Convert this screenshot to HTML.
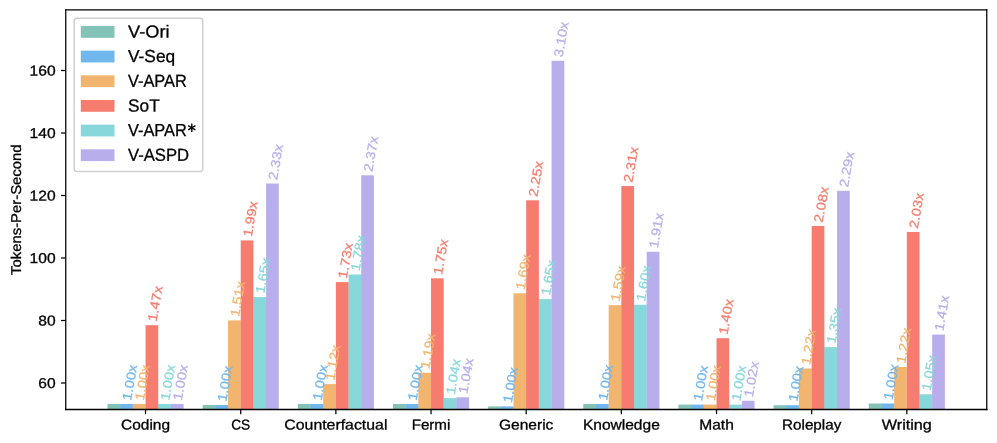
<!DOCTYPE html>
<html><head><meta charset="utf-8"><title>chart</title>
<style>
html,body{margin:0;padding:0;background:#fff;}
body{width:997px;height:443px;overflow:hidden;}
svg{display:block;will-change:transform;}
text{font-family:"Liberation Sans",sans-serif;}
</style></head><body>
<svg width="997" height="443" viewBox="0 0 997 443">
<rect x="0" y="0" width="997" height="443" fill="#ffffff"/>
<g>
<rect x="107.49" y="404.00" width="12.69" height="5.50" fill="#84C3B7"/>
<rect x="120.07" y="404.00" width="0.7" height="5.50" fill="#84C3B7"/>
<rect x="120.17" y="404.00" width="12.69" height="5.50" fill="#71B7ED"/>
<rect x="132.76" y="404.00" width="0.7" height="5.50" fill="#71B7ED"/>
<rect x="132.86" y="404.00" width="12.69" height="5.50" fill="#F2B56F"/>
<rect x="145.45" y="404.00" width="0.7" height="5.50" fill="#F2B56F"/>
<rect x="145.55" y="325.20" width="12.69" height="84.30" fill="#F57C6E"/>
<rect x="158.14" y="404.00" width="0.7" height="5.50" fill="#F57C6E"/>
<rect x="158.24" y="404.00" width="12.69" height="5.50" fill="#88D8DB"/>
<rect x="170.83" y="404.00" width="0.7" height="5.50" fill="#88D8DB"/>
<rect x="170.93" y="404.00" width="12.69" height="5.50" fill="#B8AEEB"/>
<rect x="202.65" y="405.00" width="12.69" height="4.50" fill="#84C3B7"/>
<rect x="215.23" y="405.00" width="0.7" height="4.50" fill="#84C3B7"/>
<rect x="215.33" y="405.00" width="12.69" height="4.50" fill="#71B7ED"/>
<rect x="227.92" y="405.00" width="0.7" height="4.50" fill="#71B7ED"/>
<rect x="228.02" y="320.40" width="12.69" height="89.10" fill="#F2B56F"/>
<rect x="240.61" y="320.40" width="0.7" height="89.10" fill="#F2B56F"/>
<rect x="240.71" y="240.40" width="12.69" height="169.10" fill="#F57C6E"/>
<rect x="253.30" y="297.10" width="0.7" height="112.40" fill="#F57C6E"/>
<rect x="253.40" y="297.10" width="12.69" height="112.40" fill="#88D8DB"/>
<rect x="265.99" y="297.10" width="0.7" height="112.40" fill="#88D8DB"/>
<rect x="266.09" y="183.50" width="12.69" height="226.00" fill="#B8AEEB"/>
<rect x="297.81" y="404.00" width="12.69" height="5.50" fill="#84C3B7"/>
<rect x="310.39" y="404.00" width="0.7" height="5.50" fill="#84C3B7"/>
<rect x="310.49" y="404.00" width="12.69" height="5.50" fill="#71B7ED"/>
<rect x="323.08" y="404.00" width="0.7" height="5.50" fill="#71B7ED"/>
<rect x="323.18" y="384.10" width="12.69" height="25.40" fill="#F2B56F"/>
<rect x="335.77" y="384.10" width="0.7" height="25.40" fill="#F2B56F"/>
<rect x="335.87" y="282.10" width="12.69" height="127.40" fill="#F57C6E"/>
<rect x="348.46" y="282.10" width="0.7" height="127.40" fill="#F57C6E"/>
<rect x="348.56" y="274.50" width="12.69" height="135.00" fill="#88D8DB"/>
<rect x="361.15" y="274.50" width="0.7" height="135.00" fill="#88D8DB"/>
<rect x="361.25" y="175.30" width="12.69" height="234.20" fill="#B8AEEB"/>
<rect x="392.97" y="404.00" width="12.69" height="5.50" fill="#84C3B7"/>
<rect x="405.55" y="404.00" width="0.7" height="5.50" fill="#84C3B7"/>
<rect x="405.65" y="404.00" width="12.69" height="5.50" fill="#71B7ED"/>
<rect x="418.24" y="404.00" width="0.7" height="5.50" fill="#71B7ED"/>
<rect x="418.34" y="372.70" width="12.69" height="36.80" fill="#F2B56F"/>
<rect x="430.93" y="372.70" width="0.7" height="36.80" fill="#F2B56F"/>
<rect x="431.03" y="278.30" width="12.69" height="131.20" fill="#F57C6E"/>
<rect x="443.62" y="398.10" width="0.7" height="11.40" fill="#F57C6E"/>
<rect x="443.72" y="398.10" width="12.69" height="11.40" fill="#88D8DB"/>
<rect x="456.31" y="398.10" width="0.7" height="11.40" fill="#88D8DB"/>
<rect x="456.41" y="397.30" width="12.69" height="12.20" fill="#B8AEEB"/>
<rect x="488.13" y="406.40" width="12.69" height="3.10" fill="#84C3B7"/>
<rect x="500.71" y="406.40" width="0.7" height="3.10" fill="#84C3B7"/>
<rect x="500.81" y="406.40" width="12.69" height="3.10" fill="#71B7ED"/>
<rect x="513.40" y="406.40" width="0.7" height="3.10" fill="#71B7ED"/>
<rect x="513.50" y="293.30" width="12.69" height="116.20" fill="#F2B56F"/>
<rect x="526.09" y="293.30" width="0.7" height="116.20" fill="#F2B56F"/>
<rect x="526.19" y="200.30" width="12.69" height="209.20" fill="#F57C6E"/>
<rect x="538.78" y="299.10" width="0.7" height="110.40" fill="#F57C6E"/>
<rect x="538.88" y="299.10" width="12.69" height="110.40" fill="#88D8DB"/>
<rect x="551.47" y="299.10" width="0.7" height="110.40" fill="#88D8DB"/>
<rect x="551.57" y="60.80" width="12.69" height="348.70" fill="#B8AEEB"/>
<rect x="583.29" y="404.00" width="12.69" height="5.50" fill="#84C3B7"/>
<rect x="595.87" y="404.00" width="0.7" height="5.50" fill="#84C3B7"/>
<rect x="595.97" y="404.00" width="12.69" height="5.50" fill="#71B7ED"/>
<rect x="608.56" y="404.00" width="0.7" height="5.50" fill="#71B7ED"/>
<rect x="608.66" y="305.15" width="12.69" height="104.35" fill="#F2B56F"/>
<rect x="621.25" y="305.15" width="0.7" height="104.35" fill="#F2B56F"/>
<rect x="621.35" y="186.05" width="12.69" height="223.45" fill="#F57C6E"/>
<rect x="633.94" y="304.75" width="0.7" height="104.75" fill="#F57C6E"/>
<rect x="634.04" y="304.75" width="12.69" height="104.75" fill="#88D8DB"/>
<rect x="646.63" y="304.75" width="0.7" height="104.75" fill="#88D8DB"/>
<rect x="646.73" y="251.80" width="12.69" height="157.70" fill="#B8AEEB"/>
<rect x="678.45" y="404.60" width="12.69" height="4.90" fill="#84C3B7"/>
<rect x="691.03" y="404.60" width="0.7" height="4.90" fill="#84C3B7"/>
<rect x="691.13" y="404.60" width="12.69" height="4.90" fill="#71B7ED"/>
<rect x="703.72" y="404.60" width="0.7" height="4.90" fill="#71B7ED"/>
<rect x="703.82" y="404.60" width="12.69" height="4.90" fill="#F2B56F"/>
<rect x="716.41" y="404.60" width="0.7" height="4.90" fill="#F2B56F"/>
<rect x="716.51" y="338.20" width="12.69" height="71.30" fill="#F57C6E"/>
<rect x="729.10" y="404.60" width="0.7" height="4.90" fill="#F57C6E"/>
<rect x="729.20" y="404.60" width="12.69" height="4.90" fill="#88D8DB"/>
<rect x="741.79" y="404.60" width="0.7" height="4.90" fill="#88D8DB"/>
<rect x="741.89" y="400.75" width="12.69" height="8.75" fill="#B8AEEB"/>
<rect x="773.61" y="405.20" width="12.69" height="4.30" fill="#84C3B7"/>
<rect x="786.19" y="405.20" width="0.7" height="4.30" fill="#84C3B7"/>
<rect x="786.29" y="405.20" width="12.69" height="4.30" fill="#71B7ED"/>
<rect x="798.88" y="405.20" width="0.7" height="4.30" fill="#71B7ED"/>
<rect x="798.98" y="368.50" width="12.69" height="41.00" fill="#F2B56F"/>
<rect x="811.57" y="368.50" width="0.7" height="41.00" fill="#F2B56F"/>
<rect x="811.67" y="226.00" width="12.69" height="183.50" fill="#F57C6E"/>
<rect x="824.26" y="347.10" width="0.7" height="62.40" fill="#F57C6E"/>
<rect x="824.36" y="347.10" width="12.69" height="62.40" fill="#88D8DB"/>
<rect x="836.95" y="347.10" width="0.7" height="62.40" fill="#88D8DB"/>
<rect x="837.05" y="190.80" width="12.69" height="218.70" fill="#B8AEEB"/>
<rect x="868.77" y="403.50" width="12.69" height="6.00" fill="#84C3B7"/>
<rect x="881.35" y="403.50" width="0.7" height="6.00" fill="#84C3B7"/>
<rect x="881.45" y="403.50" width="12.69" height="6.00" fill="#71B7ED"/>
<rect x="894.04" y="403.50" width="0.7" height="6.00" fill="#71B7ED"/>
<rect x="894.14" y="367.00" width="12.69" height="42.50" fill="#F2B56F"/>
<rect x="906.73" y="367.00" width="0.7" height="42.50" fill="#F2B56F"/>
<rect x="906.83" y="232.00" width="12.69" height="177.50" fill="#F57C6E"/>
<rect x="919.42" y="394.30" width="0.7" height="15.20" fill="#F57C6E"/>
<rect x="919.52" y="394.30" width="12.69" height="15.20" fill="#88D8DB"/>
<rect x="932.11" y="394.30" width="0.7" height="15.20" fill="#88D8DB"/>
<rect x="932.21" y="334.60" width="12.69" height="74.90" fill="#B8AEEB"/>
</g>
<g font-size="13.0" stroke-width="0.25">
<text transform="translate(131.12,400.90) rotate(-80)" fill="#71B7ED" stroke="#71B7ED" textLength="35.8" lengthAdjust="spacingAndGlyphs">1.00x</text>
<text transform="translate(143.81,400.90) rotate(-80)" fill="#F2B56F" stroke="#F2B56F" textLength="35.8" lengthAdjust="spacingAndGlyphs">1.00x</text>
<text transform="translate(156.49,322.10) rotate(-80)" fill="#F57C6E" stroke="#F57C6E" textLength="35.8" lengthAdjust="spacingAndGlyphs">1.47x</text>
<text transform="translate(169.18,400.90) rotate(-80)" fill="#88D8DB" stroke="#88D8DB" textLength="35.8" lengthAdjust="spacingAndGlyphs">1.00x</text>
<text transform="translate(181.87,400.90) rotate(-80)" fill="#B8AEEB" stroke="#B8AEEB" textLength="35.8" lengthAdjust="spacingAndGlyphs">1.00x</text>
<text transform="translate(226.28,401.90) rotate(-80)" fill="#71B7ED" stroke="#71B7ED" textLength="35.8" lengthAdjust="spacingAndGlyphs">1.00x</text>
<text transform="translate(238.97,317.30) rotate(-80)" fill="#F2B56F" stroke="#F2B56F" textLength="35.8" lengthAdjust="spacingAndGlyphs">1.51x</text>
<text transform="translate(251.65,237.30) rotate(-80)" fill="#F57C6E" stroke="#F57C6E" textLength="35.8" lengthAdjust="spacingAndGlyphs">1.99x</text>
<text transform="translate(264.34,294.00) rotate(-80)" fill="#88D8DB" stroke="#88D8DB" textLength="35.8" lengthAdjust="spacingAndGlyphs">1.65x</text>
<text transform="translate(277.03,180.40) rotate(-80)" fill="#B8AEEB" stroke="#B8AEEB" textLength="35.8" lengthAdjust="spacingAndGlyphs">2.33x</text>
<text transform="translate(321.44,400.90) rotate(-80)" fill="#71B7ED" stroke="#71B7ED" textLength="35.8" lengthAdjust="spacingAndGlyphs">1.00x</text>
<text transform="translate(334.13,381.00) rotate(-80)" fill="#F2B56F" stroke="#F2B56F" textLength="35.8" lengthAdjust="spacingAndGlyphs">1.12x</text>
<text transform="translate(346.81,279.00) rotate(-80)" fill="#F57C6E" stroke="#F57C6E" textLength="35.8" lengthAdjust="spacingAndGlyphs">1.73x</text>
<text transform="translate(359.50,271.40) rotate(-80)" fill="#88D8DB" stroke="#88D8DB" textLength="35.8" lengthAdjust="spacingAndGlyphs">1.78x</text>
<text transform="translate(372.19,172.20) rotate(-80)" fill="#B8AEEB" stroke="#B8AEEB" textLength="35.8" lengthAdjust="spacingAndGlyphs">2.37x</text>
<text transform="translate(416.60,400.90) rotate(-80)" fill="#71B7ED" stroke="#71B7ED" textLength="35.8" lengthAdjust="spacingAndGlyphs">1.00x</text>
<text transform="translate(429.29,369.60) rotate(-80)" fill="#F2B56F" stroke="#F2B56F" textLength="35.8" lengthAdjust="spacingAndGlyphs">1.19x</text>
<text transform="translate(441.97,275.20) rotate(-80)" fill="#F57C6E" stroke="#F57C6E" textLength="35.8" lengthAdjust="spacingAndGlyphs">1.75x</text>
<text transform="translate(454.66,395.00) rotate(-80)" fill="#88D8DB" stroke="#88D8DB" textLength="35.8" lengthAdjust="spacingAndGlyphs">1.04x</text>
<text transform="translate(467.35,394.20) rotate(-80)" fill="#B8AEEB" stroke="#B8AEEB" textLength="35.8" lengthAdjust="spacingAndGlyphs">1.04x</text>
<text transform="translate(511.76,403.30) rotate(-80)" fill="#71B7ED" stroke="#71B7ED" textLength="35.8" lengthAdjust="spacingAndGlyphs">1.00x</text>
<text transform="translate(524.45,290.20) rotate(-80)" fill="#F2B56F" stroke="#F2B56F" textLength="35.8" lengthAdjust="spacingAndGlyphs">1.69x</text>
<text transform="translate(537.13,197.20) rotate(-80)" fill="#F57C6E" stroke="#F57C6E" textLength="35.8" lengthAdjust="spacingAndGlyphs">2.25x</text>
<text transform="translate(549.82,296.00) rotate(-80)" fill="#88D8DB" stroke="#88D8DB" textLength="35.8" lengthAdjust="spacingAndGlyphs">1.65x</text>
<text transform="translate(562.51,57.70) rotate(-80)" fill="#B8AEEB" stroke="#B8AEEB" textLength="35.8" lengthAdjust="spacingAndGlyphs">3.10x</text>
<text transform="translate(606.92,400.90) rotate(-80)" fill="#71B7ED" stroke="#71B7ED" textLength="35.8" lengthAdjust="spacingAndGlyphs">1.00x</text>
<text transform="translate(619.61,302.05) rotate(-80)" fill="#F2B56F" stroke="#F2B56F" textLength="35.8" lengthAdjust="spacingAndGlyphs">1.59x</text>
<text transform="translate(632.29,182.95) rotate(-80)" fill="#F57C6E" stroke="#F57C6E" textLength="35.8" lengthAdjust="spacingAndGlyphs">2.31x</text>
<text transform="translate(644.98,301.65) rotate(-80)" fill="#88D8DB" stroke="#88D8DB" textLength="35.8" lengthAdjust="spacingAndGlyphs">1.60x</text>
<text transform="translate(657.67,248.70) rotate(-80)" fill="#B8AEEB" stroke="#B8AEEB" textLength="35.8" lengthAdjust="spacingAndGlyphs">1.91x</text>
<text transform="translate(702.08,401.50) rotate(-80)" fill="#71B7ED" stroke="#71B7ED" textLength="35.8" lengthAdjust="spacingAndGlyphs">1.00x</text>
<text transform="translate(714.77,401.50) rotate(-80)" fill="#F2B56F" stroke="#F2B56F" textLength="35.8" lengthAdjust="spacingAndGlyphs">1.00x</text>
<text transform="translate(727.45,335.10) rotate(-80)" fill="#F57C6E" stroke="#F57C6E" textLength="35.8" lengthAdjust="spacingAndGlyphs">1.40x</text>
<text transform="translate(740.14,401.50) rotate(-80)" fill="#88D8DB" stroke="#88D8DB" textLength="35.8" lengthAdjust="spacingAndGlyphs">1.00x</text>
<text transform="translate(752.83,397.65) rotate(-80)" fill="#B8AEEB" stroke="#B8AEEB" textLength="35.8" lengthAdjust="spacingAndGlyphs">1.02x</text>
<text transform="translate(797.24,402.10) rotate(-80)" fill="#71B7ED" stroke="#71B7ED" textLength="35.8" lengthAdjust="spacingAndGlyphs">1.00x</text>
<text transform="translate(809.93,365.40) rotate(-80)" fill="#F2B56F" stroke="#F2B56F" textLength="35.8" lengthAdjust="spacingAndGlyphs">1.22x</text>
<text transform="translate(822.61,222.90) rotate(-80)" fill="#F57C6E" stroke="#F57C6E" textLength="35.8" lengthAdjust="spacingAndGlyphs">2.08x</text>
<text transform="translate(835.30,344.00) rotate(-80)" fill="#88D8DB" stroke="#88D8DB" textLength="35.8" lengthAdjust="spacingAndGlyphs">1.35x</text>
<text transform="translate(847.99,187.70) rotate(-80)" fill="#B8AEEB" stroke="#B8AEEB" textLength="35.8" lengthAdjust="spacingAndGlyphs">2.29x</text>
<text transform="translate(892.40,400.40) rotate(-80)" fill="#71B7ED" stroke="#71B7ED" textLength="35.8" lengthAdjust="spacingAndGlyphs">1.00x</text>
<text transform="translate(905.09,363.90) rotate(-80)" fill="#F2B56F" stroke="#F2B56F" textLength="35.8" lengthAdjust="spacingAndGlyphs">1.22x</text>
<text transform="translate(917.77,228.90) rotate(-80)" fill="#F57C6E" stroke="#F57C6E" textLength="35.8" lengthAdjust="spacingAndGlyphs">2.03x</text>
<text transform="translate(930.46,391.20) rotate(-80)" fill="#88D8DB" stroke="#88D8DB" textLength="35.8" lengthAdjust="spacingAndGlyphs">1.05x</text>
<text transform="translate(943.15,331.50) rotate(-80)" fill="#B8AEEB" stroke="#B8AEEB" textLength="35.8" lengthAdjust="spacingAndGlyphs">1.41x</text>
</g>
<g stroke="#000" stroke-width="1.25" stroke-linecap="square"><line x1="65.75" y1="9.8" x2="65.75" y2="409.5"/><line x1="986.75" y1="9.8" x2="986.75" y2="409.5"/><line x1="65.75" y1="9.8" x2="986.75" y2="9.8"/><line x1="65.75" y1="409.5" x2="986.75" y2="409.5" stroke-width="1.3"/></g>
<g stroke="#000" stroke-width="1.25">
<line x1="145.55" y1="409.5" x2="145.55" y2="414.17"/>
<line x1="240.71" y1="409.5" x2="240.71" y2="414.17"/>
<line x1="335.87" y1="409.5" x2="335.87" y2="414.17"/>
<line x1="431.03" y1="409.5" x2="431.03" y2="414.17"/>
<line x1="526.19" y1="409.5" x2="526.19" y2="414.17"/>
<line x1="621.35" y1="409.5" x2="621.35" y2="414.17"/>
<line x1="716.51" y1="409.5" x2="716.51" y2="414.17"/>
<line x1="811.67" y1="409.5" x2="811.67" y2="414.17"/>
<line x1="906.83" y1="409.5" x2="906.83" y2="414.17"/>
<line x1="61.08" y1="383.00" x2="65.75" y2="383.00"/>
<line x1="61.08" y1="320.50" x2="65.75" y2="320.50"/>
<line x1="61.08" y1="258.00" x2="65.75" y2="258.00"/>
<line x1="61.08" y1="195.50" x2="65.75" y2="195.50"/>
<line x1="61.08" y1="133.00" x2="65.75" y2="133.00"/>
<line x1="61.08" y1="70.50" x2="65.75" y2="70.50"/>
</g>
<g font-size="14.2" fill="#000" stroke="#000" stroke-width="0.3">
<text x="121.05" y="429.5" transform="rotate(0.03 121.05 429.5)" textLength="49.00" lengthAdjust="spacingAndGlyphs">Coding</text>
<text x="231.21" y="429.5" transform="rotate(0.03 231.21 429.5)" textLength="19.00" lengthAdjust="spacingAndGlyphs">CS</text>
<text x="284.32" y="429.5" transform="rotate(0.03 284.32 429.5)" textLength="103.10" lengthAdjust="spacingAndGlyphs">Counterfactual</text>
<text x="411.73" y="429.5" transform="rotate(0.03 411.73 429.5)" textLength="38.60" lengthAdjust="spacingAndGlyphs">Fermi</text>
<text x="498.99" y="429.5" transform="rotate(0.03 498.99 429.5)" textLength="54.40" lengthAdjust="spacingAndGlyphs">Generic</text>
<text x="582.90" y="429.5" transform="rotate(0.03 582.90 429.5)" textLength="76.90" lengthAdjust="spacingAndGlyphs">Knowledge</text>
<text x="699.21" y="429.5" transform="rotate(0.03 699.21 429.5)" textLength="34.60" lengthAdjust="spacingAndGlyphs">Math</text>
<text x="782.02" y="429.5" transform="rotate(0.03 782.02 429.5)" textLength="59.30" lengthAdjust="spacingAndGlyphs">Roleplay</text>
<text x="881.83" y="429.5" transform="rotate(0.03 881.83 429.5)" textLength="50.00" lengthAdjust="spacingAndGlyphs">Writing</text>
<text x="38.30" y="388.10" transform="rotate(0.03 38.30 388.10)" textLength="17.3" lengthAdjust="spacingAndGlyphs">60</text>
<text x="38.30" y="325.60" transform="rotate(0.03 38.30 325.60)" textLength="17.3" lengthAdjust="spacingAndGlyphs">80</text>
<text x="29.60" y="263.10" transform="rotate(0.03 29.60 263.10)" textLength="26.0" lengthAdjust="spacingAndGlyphs">100</text>
<text x="29.60" y="200.60" transform="rotate(0.03 29.60 200.60)" textLength="26.0" lengthAdjust="spacingAndGlyphs">120</text>
<text x="29.60" y="138.10" transform="rotate(0.03 29.60 138.10)" textLength="26.0" lengthAdjust="spacingAndGlyphs">140</text>
<text x="29.60" y="75.60" transform="rotate(0.03 29.60 75.60)" textLength="26.0" lengthAdjust="spacingAndGlyphs">160</text>
<text transform="translate(21,274.9) rotate(-89.97)" textLength="130.5" lengthAdjust="spacingAndGlyphs">Tokens-Per-Second</text>
</g>
<rect x="74.2" y="18.35" width="128.6" height="153.05" rx="2.7" ry="2.7" fill="#ffffff" stroke="#d0d0d0" stroke-width="1.5"/>
<g font-size="17.4" fill="#000" stroke="#000" stroke-width="0.3">
<rect x="80.8" y="26.00" width="33.7" height="11.8" fill="#84C3B7" stroke="none"/>
<text x="128" y="37.45" transform="rotate(0.03 128 37.45)" textLength="41.50" lengthAdjust="spacingAndGlyphs">V-Ori</text>
<rect x="80.8" y="50.66" width="33.7" height="11.8" fill="#71B7ED" stroke="none"/>
<text x="128" y="62.11" transform="rotate(0.03 128 62.11)" textLength="47.20" lengthAdjust="spacingAndGlyphs">V-Seq</text>
<rect x="80.8" y="75.32" width="33.7" height="11.8" fill="#F2B56F" stroke="none"/>
<text x="128" y="86.77" transform="rotate(0.03 128 86.77)" textLength="58.80" lengthAdjust="spacingAndGlyphs">V-APAR</text>
<rect x="80.8" y="99.98" width="33.7" height="11.8" fill="#F57C6E" stroke="none"/>
<text x="128" y="111.43" transform="rotate(0.03 128 111.43)" textLength="31.70" lengthAdjust="spacingAndGlyphs">SoT</text>
<rect x="80.8" y="124.64" width="33.7" height="11.8" fill="#88D8DB" stroke="none"/>
<line x1="191.80" y1="123.54" x2="191.80" y2="131.94" stroke="#000" stroke-width="1.35"/>
<line x1="188.16" y1="125.64" x2="195.44" y2="129.84" stroke="#000" stroke-width="1.35"/>
<line x1="195.44" y1="125.64" x2="188.16" y2="129.84" stroke="#000" stroke-width="1.35"/>
<text x="128" y="136.09" transform="rotate(0.03 128 136.09)" textLength="58.80" lengthAdjust="spacingAndGlyphs">V-APAR</text>
<rect x="80.8" y="149.30" width="33.7" height="11.8" fill="#B8AEEB" stroke="none"/>
<text x="128" y="160.75" transform="rotate(0.03 128 160.75)" textLength="61.10" lengthAdjust="spacingAndGlyphs">V-ASPD</text>
</g>
</svg>
</body></html>
